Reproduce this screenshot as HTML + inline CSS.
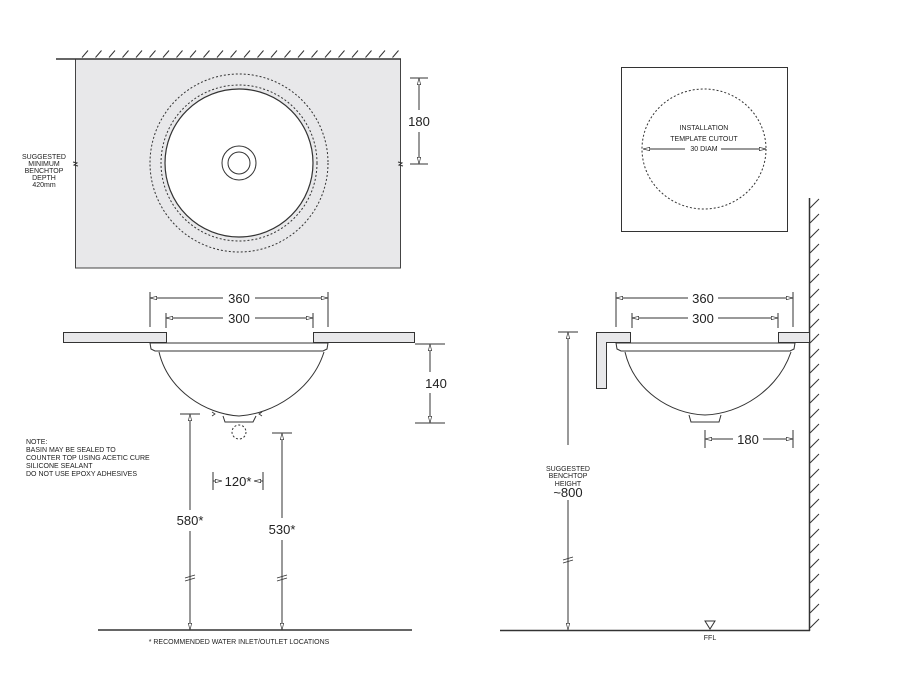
<!DOCTYPE html>
<html><head><meta charset="utf-8"><style>
html,body{margin:0;padding:0;background:#fff;width:898px;height:700px;overflow:hidden}
svg{display:block}
text{font-family:"Liberation Sans",Arial,sans-serif;fill:#222}
.s{font-size:7px;fill:#444}
.d{font-size:13px}
</style></head><body>
<svg width="898" height="700" viewBox="0 0 898 700" xmlns="http://www.w3.org/2000/svg">
<defs>
<pattern id="hT" x="0" y="50" width="13.5" height="8" patternUnits="userSpaceOnUse">
<line x1="1" y1="7.5" x2="7" y2="0.5" stroke="#333" stroke-width="1"/>
</pattern>
<pattern id="hW" x="810" y="0" width="10" height="15" patternUnits="userSpaceOnUse">
<line x1="0" y1="13" x2="9" y2="4" stroke="#333" stroke-width="1"/>
</pattern>
<marker id="a" viewBox="0 0 10 6" refX="10" refY="3" markerWidth="7" markerHeight="4" orient="auto-start-reverse" markerUnits="userSpaceOnUse">
<path d="M0,0.5 L10,3 L0,5.5 Z" fill="#fff" stroke="#333" stroke-width="1"/>
</marker>
</defs>
<g stroke="#333" fill="none" stroke-width="1">
<!-- TOP PLAN -->
<rect x="77" y="50" width="323" height="8" fill="url(#hT)" stroke="none"/>
<rect x="75.5" y="59" width="325" height="209" fill="#e8e8ea" stroke="#444"/>
<line x1="56" y1="59" x2="401" y2="59" stroke-width="1.5"/>
<circle cx="239" cy="163" r="89" stroke-dasharray="2,2"/>
<circle cx="239" cy="163" r="78" stroke-dasharray="2,2"/>
<circle cx="239" cy="163" r="74" fill="#fff" stroke-width="1.2"/>
<circle cx="239" cy="163" r="17"/>
<circle cx="239" cy="163" r="11"/>
<path d="M73,162 l4,1 l-3,2 l4,1"/>
<path d="M398,162 l4,1 l-3,2 l4,1"/>
<line x1="410" y1="78" x2="428" y2="78"/>
<line x1="410" y1="164" x2="428" y2="164"/>
<line x1="419" y1="78" x2="419" y2="110" marker-start="url(#a)"/>
<line x1="419" y1="132" x2="419" y2="164" marker-end="url(#a)"/>

<!-- TEMPLATE -->
<rect x="621.5" y="67.5" width="166" height="164"/>
<ellipse cx="704" cy="149" rx="62" ry="60" stroke-dasharray="2,2"/>
<line x1="643" y1="149" x2="685" y2="149" marker-start="url(#a)"/>
<line x1="721" y1="149" x2="766" y2="149" marker-end="url(#a)"/>

<!-- FRONT LEFT -->
<rect x="63.5" y="332.5" width="103" height="10" fill="#e8e8ea"/>
<rect x="313.5" y="332.5" width="101" height="10" fill="#e8e8ea"/>
<path d="M150,343 L328,343 L327,349 L323,351 L155,351 L151,349 Z" fill="#fff"/>
<path d="M159,352 C168,390 205,414 239,416 C273,414 312,390 324,352"/>
<path d="M223,416 L225,422 L253,422 L256,416"/>
<circle cx="239" cy="432" r="7" stroke-dasharray="2,2"/>
<path d="M212,412 l3,2 l-3,2 M262,412 l-3,2 l3,2" stroke-width="0.8"/>
<line x1="150" y1="292" x2="150" y2="327"/>
<line x1="328" y1="292" x2="328" y2="327"/>
<line x1="150" y1="298" x2="223" y2="298" marker-start="url(#a)"/>
<line x1="255" y1="298" x2="328" y2="298" marker-end="url(#a)"/>
<line x1="166" y1="313" x2="166" y2="328"/>
<line x1="313" y1="313" x2="313" y2="328"/>
<line x1="166" y1="318" x2="223" y2="318" marker-start="url(#a)"/>
<line x1="255" y1="318" x2="313" y2="318" marker-end="url(#a)"/>
<line x1="415" y1="344" x2="445" y2="344"/>
<line x1="415" y1="423" x2="445" y2="423"/>
<line x1="430" y1="344" x2="430" y2="372" marker-start="url(#a)"/>
<line x1="430" y1="393" x2="430" y2="423" marker-end="url(#a)"/>
<line x1="180" y1="414" x2="200" y2="414"/>
<line x1="190" y1="414" x2="190" y2="510" marker-start="url(#a)"/>
<line x1="190" y1="531" x2="190" y2="630" marker-end="url(#a)"/>
<path d="M185,578 l10,-3 M185,581 l10,-3" stroke-width="0.9"/>
<line x1="272" y1="433" x2="292" y2="433"/>
<line x1="282" y1="433" x2="282" y2="518" marker-start="url(#a)"/>
<line x1="282" y1="540" x2="282" y2="630" marker-end="url(#a)"/>
<path d="M277,578 l10,-3 M277,581 l10,-3" stroke-width="0.9"/>
<line x1="213" y1="472" x2="213" y2="490"/>
<line x1="263" y1="472" x2="263" y2="490"/>
<line x1="213" y1="481" x2="222" y2="481" marker-end="url(#a)"/>
<line x1="254" y1="481" x2="263" y2="481" marker-start="url(#a)"/>
<line x1="98" y1="630" x2="412" y2="630" stroke-width="1.5"/>

<!-- FRONT RIGHT -->
<rect x="810" y="198" width="10" height="430" fill="url(#hW)" stroke="none"/>
<line x1="809.5" y1="198" x2="809.5" y2="631" stroke-width="1.5"/>
<line x1="500" y1="630.5" x2="810" y2="630.5" stroke-width="1.5"/>
<path d="M596.5,332.5 H630.5 V342.5 H606.5 V388.5 H596.5 Z" fill="#e8e8ea"/>
<rect x="778.5" y="332.5" width="31" height="10" fill="#e8e8ea"/>
<path d="M616,343 L795,343 L794,349 L790,351 L621,351 L617,349 Z" fill="#fff"/>
<path d="M625,352 C634,390 670,414 705,415 C740,414 778,390 791,352"/>
<path d="M689,415 L691,422 L719,422 L721,415"/>
<line x1="616" y1="292" x2="616" y2="327"/>
<line x1="793" y1="292" x2="793" y2="327"/>
<line x1="616" y1="298" x2="688" y2="298" marker-start="url(#a)"/>
<line x1="718" y1="298" x2="793" y2="298" marker-end="url(#a)"/>
<line x1="632" y1="313" x2="632" y2="328"/>
<line x1="778" y1="313" x2="778" y2="328"/>
<line x1="632" y1="318" x2="688" y2="318" marker-start="url(#a)"/>
<line x1="718" y1="318" x2="778" y2="318" marker-end="url(#a)"/>
<line x1="705" y1="430" x2="705" y2="448"/>
<line x1="793" y1="430" x2="793" y2="448"/>
<line x1="705" y1="439" x2="733" y2="439" marker-start="url(#a)"/>
<line x1="763" y1="439" x2="793" y2="439" marker-end="url(#a)"/>
<line x1="558" y1="332" x2="578" y2="332"/>
<line x1="568" y1="332" x2="568" y2="445" marker-start="url(#a)"/>
<line x1="568" y1="500" x2="568" y2="630" marker-end="url(#a)"/>
<path d="M563,560 l10,-3 M563,563 l10,-3" stroke-width="0.9"/>
<path d="M705,621 L715,621 L710,629 Z"/>
</g>
<!-- TEXT -->
<text class="d" x="419" y="126" text-anchor="middle">180</text>
<g class="s" text-anchor="middle">
<text x="44" y="159">SUGGESTED</text>
<text x="44" y="166">MINIMUM</text>
<text x="44" y="173">BENCHTOP</text>
<text x="44" y="180">DEPTH</text>
<text x="44" y="187">420mm</text>
<text x="704" y="130">INSTALLATION</text>
<text x="704" y="141">TEMPLATE CUTOUT</text>
<text x="704" y="151">30 DIAM</text>
<text x="568" y="471">SUGGESTED</text>
<text x="568" y="478">BENCHTOP</text>
<text x="568" y="486">HEIGHT</text>
<text x="710" y="640">FFL</text>
<text x="239" y="644">* RECOMMENDED WATER INLET/OUTLET LOCATIONS</text>
</g>
<g class="s">
<text x="26" y="444">NOTE:</text>
<text x="26" y="452">BASIN MAY BE SEALED TO</text>
<text x="26" y="460">COUNTER TOP USING ACETIC CURE</text>
<text x="26" y="468">SILICONE SEALANT</text>
<text x="26" y="476">DO NOT USE EPOXY ADHESIVES</text>
</g>
<g class="d" text-anchor="middle">
<text x="239" y="303">360</text>
<text x="239" y="323">300</text>
<text x="436" y="388">140</text>
<text x="190" y="525">580*</text>
<text x="282" y="534">530*</text>
<text x="238" y="486">120*</text>
<text x="703" y="303">360</text>
<text x="703" y="323">300</text>
<text x="748" y="444">180</text>
<text x="568" y="497">~800</text>
</g>
</svg>
</body></html>
